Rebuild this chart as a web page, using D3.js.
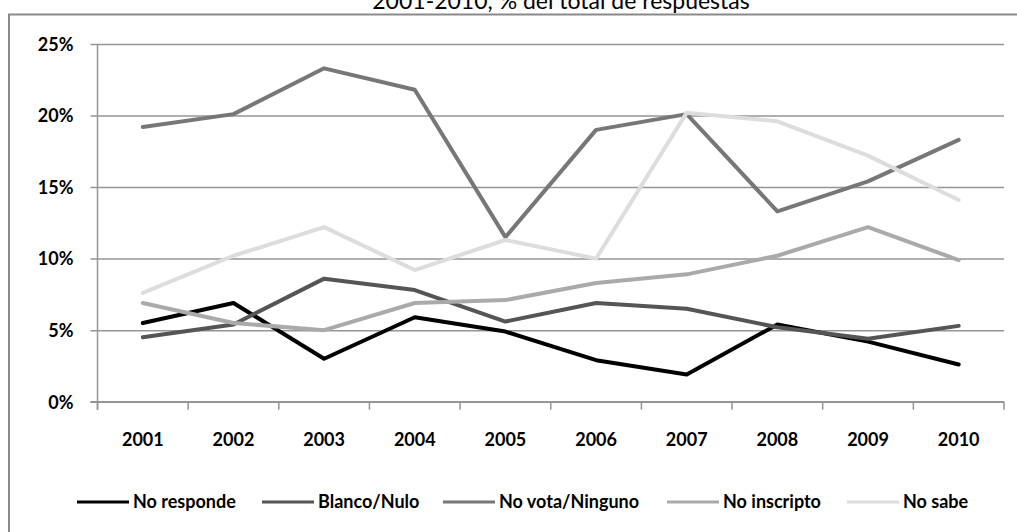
<!DOCTYPE html>
<html>
<head>
<meta charset="utf-8">
<script src="https://cdn.jsdelivr.net/npm/d3@7"></script>
<style>
  html, body { margin: 0; padding: 0; background: #fff; }
  svg { display: block; }
  text { font-family: Lato, "Open Sans", sans-serif; }
</style>
</head>
<body>
<svg id="chart" width="1017" height="532"></svg>
<script>
// Survey years
const years = ["2001","2002","2003","2004","2005","2006","2007","2008","2009","2010"];

// Share of answers per category, in percent
const noResponde   = [5.5, 6.9, 3.0, 5.9, 4.9, 2.9, 1.9, 5.4, 4.2, 2.6];
const blancoNulo   = [4.5, 5.4, 8.6, 7.8, 5.6, 6.9, 6.5, 5.2, 4.4, 5.3];
const noVota       = [19.2, 20.1, 23.3, 21.8, 11.5, 19.0, 20.1, 13.3, 15.4, 18.3];
const noInscripto  = [6.9, 5.5, 5.0, 6.9, 7.1, 8.3, 8.9, 10.2, 12.2, 9.9];
const noSabe       = [7.6, 10.2, 12.2, 9.2, 11.3, 10.0, 20.2, 19.6, 17.2, 14.1];

const seriesNames  = ["No responde", "Blanco/Nulo", "No vota/Ninguno", "No inscripto", "No sabe"];
const seriesValues = [noResponde, blancoNulo, noVota, noInscripto, noSabe];
const seriesColors = ["#000000", "#555555", "#777777", "#aaaaaa", "#dddddd"];

const yTicks = [0, 5, 10, 15, 20, 25];
const titleText = "2001-2010, % del total de respuestas";

const svg = d3.select("#chart");

// Outer chart frame (extends past the page edges)
svg.append("rect")
  .attr("x", 9).attr("y", 14.5)
  .attr("width", 1030).attr("height", 540)
  .attr("fill", "#fff")
  .attr("stroke", "#8a8a8a")
  .attr("stroke-width", 2);

// Title, partly cut off by the top of the page
svg.append("text")
  .attr("x", 561).attr("y", 9)
  .attr("text-anchor", "middle")
  .attr("font-size", 23)
  .attr("fill", "#000")
  .text(titleText);

const plot = { left: 97.5, right: 1004, top: 44, bottom: 401.7 };

const x = d3.scaleBand().domain(years).range([plot.left, plot.right]).padding(0);
const y = d3.scaleLinear().domain([0, 25]).range([plot.bottom, plot.top]);

// Horizontal gridlines and y-axis
const yAxis = d3.axisLeft(y)
  .tickValues(yTicks)
  .tickSize(-(plot.right - plot.left))
  .tickPadding(24)
  .tickFormat(d => d + "%");

const gy = svg.append("g")
  .attr("transform", `translate(${plot.left},0)`)
  .call(yAxis);
gy.select(".domain").remove();
gy.selectAll(".tick line")
  .attr("x1", -7)
  .attr("stroke", "#959595")
  .attr("stroke-width", 1.5);
gy.selectAll(".tick text")
  .attr("font-size", 18)
  .attr("font-weight", "bold")
  .attr("fill", "#000")
  .attr("dy", "0.35em");

// Vertical axis line
svg.append("line")
  .attr("x1", plot.left).attr("x2", plot.left)
  .attr("y1", plot.top).attr("y2", plot.bottom + 8)
  .attr("stroke", "#959595").attr("stroke-width", 1.5);

// Category axis: ticks on band boundaries, labels at band centres
const boundaries = years.map(d => x(d)).concat([plot.right]);
svg.append("line")
  .attr("x1", plot.left - 7).attr("x2", plot.right)
  .attr("y1", plot.bottom).attr("y2", plot.bottom)
  .attr("stroke", "#959595").attr("stroke-width", 1.5);
svg.append("g").selectAll("line")
  .data(boundaries)
  .join("line")
  .attr("x1", d => d).attr("x2", d => d)
  .attr("y1", plot.bottom).attr("y2", plot.bottom + 8)
  .attr("stroke", "#959595").attr("stroke-width", 1.5);
svg.append("g").selectAll("text")
  .data(years)
  .join("text")
  .attr("x", d => x(d) + x.bandwidth() / 2)
  .attr("y", 446)
  .attr("text-anchor", "middle")
  .attr("font-size", 18)
  .attr("font-weight", "bold")
  .attr("fill", "#000")
  .text(d => d);

// Series lines
const line = d3.line()
  .x((d, i) => x(years[i]) + x.bandwidth() / 2)
  .y(d => y(d));

svg.append("g").selectAll("path")
  .data(seriesValues)
  .join("path")
  .attr("d", d => line(d))
  .attr("fill", "none")
  .attr("stroke", (d, i) => seriesColors[i])
  .attr("stroke-width", 4)
  .attr("stroke-linejoin", "round")
  .attr("stroke-linecap", "round");

// Legend
const legendX = [77, 262, 443, 667, 847];
const legend = svg.append("g").selectAll("g")
  .data(seriesNames)
  .join("g")
  .attr("transform", (d, i) => `translate(${legendX[i]},502)`);
legend.append("line")
  .attr("x1", 0).attr("x2", 52)
  .attr("y1", 0).attr("y2", 0)
  .attr("stroke", (d, i) => seriesColors[i])
  .attr("stroke-width", 3);
legend.append("text")
  .attr("x", 56).attr("y", 0)
  .attr("dy", "0.35em")
  .attr("font-size", 18)
  .attr("font-weight", "bold")
  .attr("fill", "#000")
  .text(d => d);
</script>
</body>
</html>
